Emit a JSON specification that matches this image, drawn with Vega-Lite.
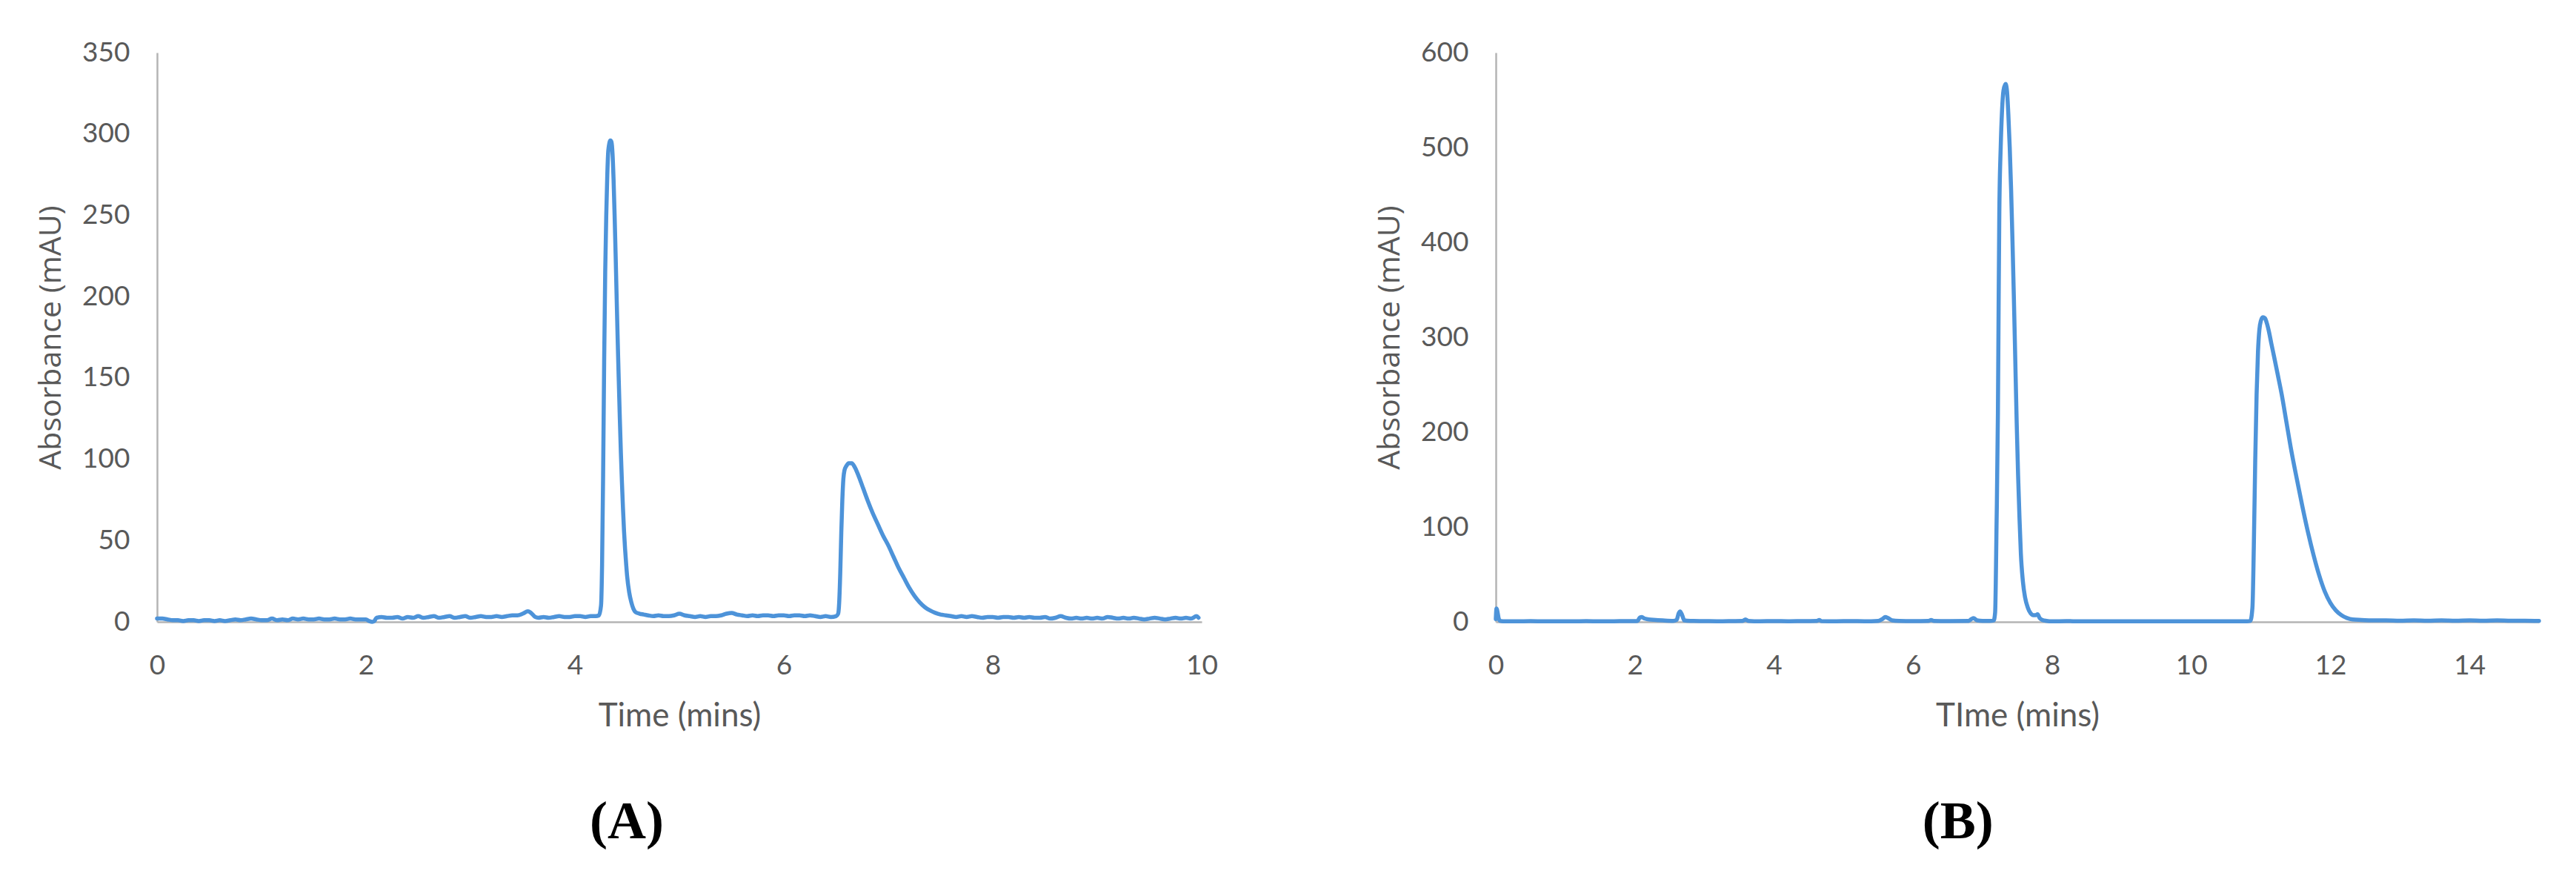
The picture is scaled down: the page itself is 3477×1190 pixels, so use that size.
{
  "$schema": "https://vega.github.io/schema/vega-lite/v6.json",
  "background": "white",
  "padding": {"left": 48, "top": 52, "right": 0, "bottom": 30},
  "spacing": 211,
  "config": {
    "view": {"stroke": null},
    "axis": {
      "grid": false,
      "ticks": false,
      "domainColor": "#b4b4b4",
      "domainWidth": 2.5,
      "labelFont": "Lato",
      "labelFontSize": 37,
      "labelColor": "#595959",
      "titleColor": "#595959",
      "titleFontWeight": "normal"
    },
    "axisX": {"labelPadding": 41, "titleFont": "Lato", "titleFontSize": 44, "titlePadding": 28, "labelFlush": false},
    "axisY": {"labelPadding": 37, "titleFont": "Open Sans", "titleFontSize": 41, "titlePadding": 20, "domain": true},
    "title": {"font": "Liberation Serif", "fontSize": 72, "fontWeight": "bold", "color": "#000000", "orient": "bottom", "anchor": "middle", "frame": "bounds", "offset": 86}
  },
  "datasets": {
    "a": [
      {"time": 0.00, "absorbance": 2}, {"time": 0.05, "absorbance": 2}, {"time": 0.10, "absorbance": 1.5}, {"time": 0.15, "absorbance": 1},
      {"time": 0.20, "absorbance": 1}, {"time": 0.25, "absorbance": 0.5}, {"time": 0.30, "absorbance": 1}, {"time": 0.35, "absorbance": 1},
      {"time": 0.40, "absorbance": 0.5}, {"time": 0.45, "absorbance": 1}, {"time": 0.50, "absorbance": 1}, {"time": 0.55, "absorbance": 0.5},
      {"time": 0.60, "absorbance": 1}, {"time": 0.65, "absorbance": 0.5}, {"time": 0.70, "absorbance": 1}, {"time": 0.75, "absorbance": 1.5},
      {"time": 0.80, "absorbance": 1}, {"time": 0.85, "absorbance": 1.5}, {"time": 0.90, "absorbance": 2}, {"time": 0.95, "absorbance": 1.5},
      {"time": 1.00, "absorbance": 1}, {"time": 1.05, "absorbance": 1}, {"time": 1.10, "absorbance": 2}, {"time": 1.15, "absorbance": 1},
      {"time": 1.20, "absorbance": 1.5}, {"time": 1.25, "absorbance": 1}, {"time": 1.30, "absorbance": 2}, {"time": 1.35, "absorbance": 1.5},
      {"time": 1.40, "absorbance": 2}, {"time": 1.45, "absorbance": 1.5}, {"time": 1.50, "absorbance": 1.5}, {"time": 1.55, "absorbance": 2},
      {"time": 1.60, "absorbance": 1.5}, {"time": 1.65, "absorbance": 1.5}, {"time": 1.70, "absorbance": 2}, {"time": 1.75, "absorbance": 1.5},
      {"time": 1.80, "absorbance": 1.5}, {"time": 1.85, "absorbance": 2}, {"time": 1.90, "absorbance": 1.5}, {"time": 1.95, "absorbance": 1.5},
      {"time": 2.00, "absorbance": 1.5}, {"time": 2.03, "absorbance": 0.5}, {"time": 2.06, "absorbance": 0}, {"time": 2.08, "absorbance": 0.5},
      {"time": 2.10, "absorbance": 2.5}, {"time": 2.15, "absorbance": 3}, {"time": 2.20, "absorbance": 2.5}, {"time": 2.25, "absorbance": 2.5},
      {"time": 2.30, "absorbance": 3}, {"time": 2.35, "absorbance": 2}, {"time": 2.40, "absorbance": 3}, {"time": 2.45, "absorbance": 2.5},
      {"time": 2.50, "absorbance": 3.5}, {"time": 2.55, "absorbance": 2.5}, {"time": 2.60, "absorbance": 3}, {"time": 2.65, "absorbance": 3.5},
      {"time": 2.70, "absorbance": 2.5}, {"time": 2.75, "absorbance": 3}, {"time": 2.80, "absorbance": 3.5}, {"time": 2.85, "absorbance": 2.5},
      {"time": 2.90, "absorbance": 3}, {"time": 2.95, "absorbance": 3.5}, {"time": 3.00, "absorbance": 2.5}, {"time": 3.05, "absorbance": 3},
      {"time": 3.10, "absorbance": 3.5}, {"time": 3.15, "absorbance": 3}, {"time": 3.20, "absorbance": 3}, {"time": 3.25, "absorbance": 3.5},
      {"time": 3.30, "absorbance": 3}, {"time": 3.35, "absorbance": 3.5}, {"time": 3.40, "absorbance": 4}, {"time": 3.45, "absorbance": 4},
      {"time": 3.50, "absorbance": 5}, {"time": 3.55, "absorbance": 6.5}, {"time": 3.58, "absorbance": 5.5}, {"time": 3.62, "absorbance": 3},
      {"time": 3.65, "absorbance": 2.5}, {"time": 3.70, "absorbance": 3}, {"time": 3.75, "absorbance": 2.5}, {"time": 3.80, "absorbance": 3},
      {"time": 3.85, "absorbance": 3.5}, {"time": 3.90, "absorbance": 3}, {"time": 3.95, "absorbance": 3}, {"time": 4.00, "absorbance": 3.5},
      {"time": 4.05, "absorbance": 3.5}, {"time": 4.10, "absorbance": 3}, {"time": 4.15, "absorbance": 3.5}, {"time": 4.20, "absorbance": 3.5},
      {"time": 4.23, "absorbance": 4}, {"time": 4.25, "absorbance": 10}, {"time": 4.26, "absorbance": 35}, {"time": 4.27, "absorbance": 90},
      {"time": 4.28, "absorbance": 160}, {"time": 4.29, "absorbance": 215}, {"time": 4.30, "absorbance": 250}, {"time": 4.31, "absorbance": 275},
      {"time": 4.32, "absorbance": 290}, {"time": 4.34, "absorbance": 296}, {"time": 4.35, "absorbance": 295}, {"time": 4.36, "absorbance": 288},
      {"time": 4.37, "absorbance": 272}, {"time": 4.38, "absorbance": 250}, {"time": 4.39, "absorbance": 225}, {"time": 4.40, "absorbance": 198},
      {"time": 4.41, "absorbance": 172}, {"time": 4.42, "absorbance": 148}, {"time": 4.43, "absorbance": 125}, {"time": 4.44, "absorbance": 104},
      {"time": 4.45, "absorbance": 86}, {"time": 4.46, "absorbance": 70}, {"time": 4.47, "absorbance": 56}, {"time": 4.48, "absorbance": 45},
      {"time": 4.49, "absorbance": 36}, {"time": 4.50, "absorbance": 28}, {"time": 4.52, "absorbance": 18}, {"time": 4.54, "absorbance": 12},
      {"time": 4.56, "absorbance": 8}, {"time": 4.58, "absorbance": 6}, {"time": 4.62, "absorbance": 5}, {"time": 4.66, "absorbance": 4.5},
      {"time": 4.70, "absorbance": 4}, {"time": 4.75, "absorbance": 3.5}, {"time": 4.80, "absorbance": 4}, {"time": 4.85, "absorbance": 3.5},
      {"time": 4.90, "absorbance": 3.5}, {"time": 4.95, "absorbance": 4}, {"time": 5.00, "absorbance": 5}, {"time": 5.05, "absorbance": 4},
      {"time": 5.10, "absorbance": 3.5}, {"time": 5.15, "absorbance": 3}, {"time": 5.20, "absorbance": 3.5}, {"time": 5.25, "absorbance": 3},
      {"time": 5.30, "absorbance": 3.5}, {"time": 5.35, "absorbance": 3.5}, {"time": 5.40, "absorbance": 4}, {"time": 5.45, "absorbance": 5},
      {"time": 5.50, "absorbance": 5.5}, {"time": 5.55, "absorbance": 4.5}, {"time": 5.60, "absorbance": 4}, {"time": 5.65, "absorbance": 3.5},
      {"time": 5.70, "absorbance": 4}, {"time": 5.75, "absorbance": 3.5}, {"time": 5.80, "absorbance": 4}, {"time": 5.85, "absorbance": 4},
      {"time": 5.90, "absorbance": 3.5}, {"time": 5.95, "absorbance": 4}, {"time": 6.00, "absorbance": 4}, {"time": 6.05, "absorbance": 3.5},
      {"time": 6.10, "absorbance": 4}, {"time": 6.15, "absorbance": 4}, {"time": 6.20, "absorbance": 3.5}, {"time": 6.25, "absorbance": 4},
      {"time": 6.30, "absorbance": 3.5}, {"time": 6.35, "absorbance": 3}, {"time": 6.40, "absorbance": 3.5}, {"time": 6.45, "absorbance": 3},
      {"time": 6.50, "absorbance": 3.5}, {"time": 6.52, "absorbance": 5}, {"time": 6.53, "absorbance": 12}, {"time": 6.54, "absorbance": 30},
      {"time": 6.55, "absorbance": 55}, {"time": 6.56, "absorbance": 75}, {"time": 6.57, "absorbance": 88}, {"time": 6.58, "absorbance": 93},
      {"time": 6.60, "absorbance": 96}, {"time": 6.62, "absorbance": 97.5}, {"time": 6.65, "absorbance": 97.5}, {"time": 6.68, "absorbance": 95},
      {"time": 6.72, "absorbance": 89}, {"time": 6.76, "absorbance": 82}, {"time": 6.80, "absorbance": 75}, {"time": 6.85, "absorbance": 67},
      {"time": 6.90, "absorbance": 60}, {"time": 6.95, "absorbance": 53}, {"time": 7.00, "absorbance": 47}, {"time": 7.05, "absorbance": 40},
      {"time": 7.10, "absorbance": 33}, {"time": 7.15, "absorbance": 27}, {"time": 7.20, "absorbance": 21}, {"time": 7.25, "absorbance": 16},
      {"time": 7.30, "absorbance": 12}, {"time": 7.35, "absorbance": 9}, {"time": 7.40, "absorbance": 7}, {"time": 7.45, "absorbance": 5.5},
      {"time": 7.50, "absorbance": 4.5}, {"time": 7.55, "absorbance": 4}, {"time": 7.60, "absorbance": 3.5}, {"time": 7.65, "absorbance": 3},
      {"time": 7.70, "absorbance": 3.5}, {"time": 7.75, "absorbance": 3}, {"time": 7.80, "absorbance": 3.5}, {"time": 7.85, "absorbance": 3},
      {"time": 7.90, "absorbance": 2.5}, {"time": 7.95, "absorbance": 3}, {"time": 8.00, "absorbance": 3}, {"time": 8.05, "absorbance": 2.5},
      {"time": 8.10, "absorbance": 3}, {"time": 8.15, "absorbance": 3}, {"time": 8.20, "absorbance": 2.5}, {"time": 8.25, "absorbance": 3},
      {"time": 8.30, "absorbance": 2.5}, {"time": 8.35, "absorbance": 3}, {"time": 8.40, "absorbance": 2.5}, {"time": 8.45, "absorbance": 2.5},
      {"time": 8.50, "absorbance": 3}, {"time": 8.55, "absorbance": 2}, {"time": 8.60, "absorbance": 2.5}, {"time": 8.65, "absorbance": 3.5},
      {"time": 8.70, "absorbance": 2.5}, {"time": 8.75, "absorbance": 2}, {"time": 8.80, "absorbance": 2.5}, {"time": 8.85, "absorbance": 2},
      {"time": 8.90, "absorbance": 2.5}, {"time": 8.95, "absorbance": 2}, {"time": 9.00, "absorbance": 2.5}, {"time": 9.05, "absorbance": 2},
      {"time": 9.10, "absorbance": 3}, {"time": 9.15, "absorbance": 2.5}, {"time": 9.20, "absorbance": 2}, {"time": 9.25, "absorbance": 2.5},
      {"time": 9.30, "absorbance": 2}, {"time": 9.35, "absorbance": 2.5}, {"time": 9.40, "absorbance": 2}, {"time": 9.45, "absorbance": 1.5},
      {"time": 9.50, "absorbance": 2}, {"time": 9.55, "absorbance": 2.5}, {"time": 9.60, "absorbance": 2}, {"time": 9.65, "absorbance": 1.5},
      {"time": 9.70, "absorbance": 2}, {"time": 9.75, "absorbance": 2.5}, {"time": 9.80, "absorbance": 2}, {"time": 9.85, "absorbance": 2.5},
      {"time": 9.90, "absorbance": 2}, {"time": 9.95, "absorbance": 3.5}, {"time": 9.97, "absorbance": 2.5}
    ],
    "b": [
      {"time": 0.00, "absorbance": 3}, {"time": 0.01, "absorbance": 14}, {"time": 0.02, "absorbance": 12}, {"time": 0.04, "absorbance": 4},
      {"time": 0.06, "absorbance": 1}, {"time": 0.10, "absorbance": 0.5}, {"time": 0.30, "absorbance": 0.5}, {"time": 0.50, "absorbance": 0.8},
      {"time": 0.70, "absorbance": 0.5}, {"time": 0.90, "absorbance": 0.6}, {"time": 1.10, "absorbance": 0.5}, {"time": 1.30, "absorbance": 0.8},
      {"time": 1.50, "absorbance": 0.5}, {"time": 1.70, "absorbance": 0.6}, {"time": 1.90, "absorbance": 0.8}, {"time": 2.00, "absorbance": 0.8},
      {"time": 2.04, "absorbance": 1}, {"time": 2.07, "absorbance": 4.5}, {"time": 2.10, "absorbance": 5}, {"time": 2.14, "absorbance": 3.5},
      {"time": 2.20, "absorbance": 2.5}, {"time": 2.30, "absorbance": 2}, {"time": 2.40, "absorbance": 1.5}, {"time": 2.55, "absorbance": 1},
      {"time": 2.60, "absorbance": 2}, {"time": 2.63, "absorbance": 9}, {"time": 2.65, "absorbance": 11}, {"time": 2.68, "absorbance": 7},
      {"time": 2.71, "absorbance": 1.5}, {"time": 2.80, "absorbance": 1}, {"time": 3.00, "absorbance": 0.8}, {"time": 3.20, "absorbance": 0.6},
      {"time": 3.40, "absorbance": 0.8}, {"time": 3.55, "absorbance": 1}, {"time": 3.59, "absorbance": 2.5}, {"time": 3.63, "absorbance": 1},
      {"time": 3.80, "absorbance": 0.6}, {"time": 4.00, "absorbance": 0.8}, {"time": 4.20, "absorbance": 0.6}, {"time": 4.40, "absorbance": 0.8},
      {"time": 4.62, "absorbance": 1}, {"time": 4.65, "absorbance": 2}, {"time": 4.68, "absorbance": 0.8}, {"time": 4.90, "absorbance": 0.6},
      {"time": 5.10, "absorbance": 0.8}, {"time": 5.30, "absorbance": 0.6}, {"time": 5.50, "absorbance": 1}, {"time": 5.56, "absorbance": 3},
      {"time": 5.60, "absorbance": 5}, {"time": 5.64, "absorbance": 4}, {"time": 5.70, "absorbance": 1.5}, {"time": 5.80, "absorbance": 1},
      {"time": 6.00, "absorbance": 0.8}, {"time": 6.22, "absorbance": 1}, {"time": 6.26, "absorbance": 2}, {"time": 6.30, "absorbance": 1},
      {"time": 6.50, "absorbance": 0.8}, {"time": 6.80, "absorbance": 1}, {"time": 6.84, "absorbance": 3}, {"time": 6.87, "absorbance": 4},
      {"time": 6.92, "absorbance": 1.5}, {"time": 7.00, "absorbance": 1}, {"time": 7.10, "absorbance": 1}, {"time": 7.16, "absorbance": 1.5},
      {"time": 7.18, "absorbance": 10}, {"time": 7.20, "absorbance": 100}, {"time": 7.22, "absorbance": 220}, {"time": 7.23, "absorbance": 330},
      {"time": 7.24, "absorbance": 430}, {"time": 7.26, "absorbance": 500}, {"time": 7.28, "absorbance": 540}, {"time": 7.30, "absorbance": 560},
      {"time": 7.33, "absorbance": 567}, {"time": 7.35, "absorbance": 560}, {"time": 7.37, "absorbance": 535}, {"time": 7.39, "absorbance": 500},
      {"time": 7.41, "absorbance": 455}, {"time": 7.43, "absorbance": 400}, {"time": 7.45, "absorbance": 340}, {"time": 7.47, "absorbance": 275},
      {"time": 7.49, "absorbance": 210}, {"time": 7.51, "absorbance": 155}, {"time": 7.53, "absorbance": 110}, {"time": 7.55, "absorbance": 72},
      {"time": 7.58, "absorbance": 42}, {"time": 7.61, "absorbance": 26}, {"time": 7.65, "absorbance": 15}, {"time": 7.69, "absorbance": 9},
      {"time": 7.73, "absorbance": 7}, {"time": 7.76, "absorbance": 7}, {"time": 7.79, "absorbance": 8}, {"time": 7.82, "absorbance": 4},
      {"time": 7.86, "absorbance": 2}, {"time": 7.92, "absorbance": 1}, {"time": 8.00, "absorbance": 0.5}, {"time": 8.20, "absorbance": 0.8},
      {"time": 8.40, "absorbance": 0.5}, {"time": 8.60, "absorbance": 0.6}, {"time": 8.80, "absorbance": 0.5}, {"time": 9.00, "absorbance": 0.6},
      {"time": 9.20, "absorbance": 0.5}, {"time": 9.40, "absorbance": 0.6}, {"time": 9.60, "absorbance": 0.5}, {"time": 9.80, "absorbance": 0.6},
      {"time": 10.00, "absorbance": 0.5}, {"time": 10.20, "absorbance": 0.6}, {"time": 10.40, "absorbance": 0.5}, {"time": 10.60, "absorbance": 0.6},
      {"time": 10.80, "absorbance": 0.5}, {"time": 10.85, "absorbance": 1}, {"time": 10.88, "absorbance": 15}, {"time": 10.90, "absorbance": 80},
      {"time": 10.92, "absorbance": 170}, {"time": 10.94, "absorbance": 240}, {"time": 10.96, "absorbance": 285}, {"time": 10.98, "absorbance": 308},
      {"time": 11.00, "absorbance": 317}, {"time": 11.03, "absorbance": 321}, {"time": 11.06, "absorbance": 320}, {"time": 11.09, "absorbance": 314},
      {"time": 11.12, "absorbance": 305}, {"time": 11.15, "absorbance": 294}, {"time": 11.19, "absorbance": 280}, {"time": 11.24, "absorbance": 262},
      {"time": 11.30, "absorbance": 240}, {"time": 11.37, "absorbance": 210}, {"time": 11.44, "absorbance": 180}, {"time": 11.52, "absorbance": 150},
      {"time": 11.60, "absorbance": 121}, {"time": 11.68, "absorbance": 94}, {"time": 11.76, "absorbance": 70}, {"time": 11.84, "absorbance": 49},
      {"time": 11.92, "absorbance": 32}, {"time": 12.00, "absorbance": 20}, {"time": 12.08, "absorbance": 12}, {"time": 12.16, "absorbance": 7},
      {"time": 12.24, "absorbance": 4}, {"time": 12.32, "absorbance": 2.5}, {"time": 12.45, "absorbance": 2}, {"time": 12.60, "absorbance": 1.5},
      {"time": 12.80, "absorbance": 1.5}, {"time": 13.00, "absorbance": 1.2}, {"time": 13.20, "absorbance": 1.5}, {"time": 13.40, "absorbance": 1.2},
      {"time": 13.60, "absorbance": 1.5}, {"time": 13.80, "absorbance": 1.2}, {"time": 14.00, "absorbance": 1.5}, {"time": 14.20, "absorbance": 1.2},
      {"time": 14.40, "absorbance": 1.5}, {"time": 14.60, "absorbance": 1.2}, {"time": 14.80, "absorbance": 1.2}, {"time": 15.00, "absorbance": 1}
    ]
  },
  "hconcat": [
    {
      "width": 1410,
      "height": 768,
      "data": {"name": "a"},
      "title": {"text": "(A)"},
      "mark": {"type": "line", "color": "#4d93d9", "strokeWidth": 5.5, "strokeJoin": "round", "strokeCap": "round", "interpolate": "monotone"},
      "encoding": {
        "x": {"field": "time", "type": "quantitative", "scale": {"domain": [0, 10], "nice": false, "zero": false},
              "axis": {"values": [0, 2, 4, 6, 8, 10], "title": "Time (mins)"}},
        "y": {"field": "absorbance", "type": "quantitative", "scale": {"domain": [0, 350], "nice": false},
              "axis": {"values": [0, 50, 100, 150, 200, 250, 300, 350], "title": "Absorbance (mAU)"}}
      }
    },
    {
      "width": 1408,
      "height": 768,
      "data": {"name": "b"},
      "title": {"text": "(B)"},
      "mark": {"type": "line", "color": "#4d93d9", "strokeWidth": 5.5, "strokeJoin": "round", "strokeCap": "round", "interpolate": "monotone"},
      "encoding": {
        "x": {"field": "time", "type": "quantitative", "scale": {"domain": [0, 15], "nice": false, "zero": false},
              "axis": {"values": [0, 2, 4, 6, 8, 10, 12, 14], "title": "TIme (mins)"}},
        "y": {"field": "absorbance", "type": "quantitative", "scale": {"domain": [0, 600], "nice": false},
              "axis": {"values": [0, 100, 200, 300, 400, 500, 600], "title": "Absorbance (mAU)"}}
      }
    }
  ]
}
